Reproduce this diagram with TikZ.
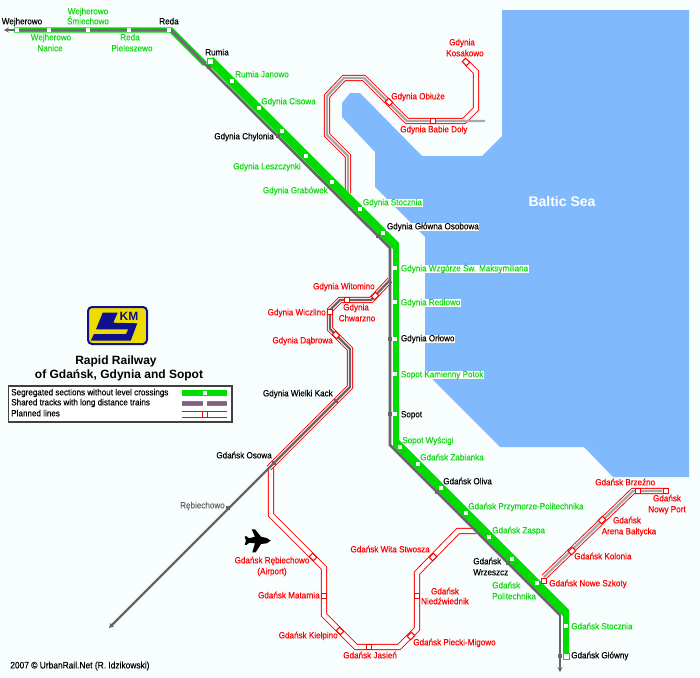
\documentclass[tikz,border=0pt]{standalone}
\usepackage{fontspec}
\usetikzlibrary{arrows.meta}
\setmainfont{Liberation Sans}
\newfontfamily\labf[FakeStretch=0.9,FakeBold=0.15]{Liberation Sans}
\definecolor{bgc}{HTML}{F8FDFE}
\definecolor{seac}{HTML}{80BAFC}
\definecolor{grn}{HTML}{00DC00}
\definecolor{grt}{HTML}{10D810}
\definecolor{gmid}{HTML}{666666}
\definecolor{gpur}{HTML}{806080}
\definecolor{glight}{HTML}{A8A8A8}
\definecolor{navyl}{HTML}{10108C}
\definecolor{yel}{HTML}{EEDC00}
\tikzset{
  x=0.75pt,y=-0.75pt,
  lab/.style={font=\labf\fontsize{6.75}{8}\selectfont,inner sep=0pt,text height=5pt,text depth=1.5pt},
  bl/.style={lab,text=black},
  gr/.style={lab,text=grt},
  rd/.style={lab,text=red},
  ong/.style={fill=white,inner xsep=0.5pt},
  wst/.style={rectangle,fill=white,inner sep=0pt,minimum width=3.4pt,minimum height=3.4pt},
  wstb/.style={rectangle,fill=white,draw=grn,line width=0.6pt,inner sep=0pt,minimum width=4.4pt,minimum height=4.4pt},
  gst/.style={rectangle,fill=gmid,inner sep=0pt,minimum size=3pt},
  pst/.style={rectangle,fill=white,draw=red,line width=0.7pt,inner sep=0pt,minimum width=3.6pt,minimum height=4.4pt},
  plan/.style={draw=red,line width=0.7pt,double=white,double distance=3.3pt,line join=miter},
  ingl/.style={draw=glight,line width=1.7pt},
  ingd/.style={draw=gmid,line width=1.7pt},
  grayl/.style={draw=gmid,line width=2pt},
  graypur/.style={draw=gpur,line width=1.8pt},
  greenband/.style={draw=grn,line width=4pt},
  tipg/.style={-{Stealth[length=3.6pt,width=3.8pt]}},
}
\begin{document}
\begin{tikzpicture}
\useasboundingbox (0,0) rectangle (700,678);
\fill[bgc] (0,0) rectangle (700,678);
% sea
\fill[seac] (502,10) -- (689,10) -- (689,477) -- (613,477) -- (584,447) -- (500,447) -- (435,382) -- (425,370) -- (425,237) -- (375,187) -- (375,152) -- (342,117) -- (342,103) -- (350,93) -- (360,93) -- (422,156) -- (482,156) -- (502,136) -- cycle;
\node[font=\bfseries\fontsize{10.5}{12}\selectfont,text=white,inner sep=0pt] (baltic) at (562,201) {Baltic Sea};
% main line waypoints
\coordinate (wejend) at (4,30);
\coordinate (bandw) at (14,30);
\coordinate (bandr) at (171,30);
\coordinate (bandm) at (205,64);
\coordinate (gt1) at (390,248);
\coordinate (gt2) at (390,445);
\coordinate (gt3) at (560,615);
\coordinate (gtend) at (560,672);
% planned Gdynia north loop
\coordinate (a0) at (348,193);\coordinate (a1) at (348,156);\coordinate (a2) at (327,135);\coordinate (a3) at (327,96);
\coordinate (a4) at (344,78);\coordinate (a5) at (364,78);\coordinate (a6) at (407,121);\coordinate (a7) at (464,121);
\coordinate (a8) at (476,109);\coordinate (a9) at (476,72);\coordinate (a10) at (467,63);\coordinate (a11) at (485,121);
\draw[plan] (a0) -- (a1) -- (a2) -- (a3) -- (a4) -- (a5) -- (a6) -- (a7) -- (a8) -- (a9) -- (a10);
\draw[ingl] (a0) -- (a1) -- (a2) -- (a3) -- (a4) -- (a5) -- (a6) -- (a7) -- (a11);
% airport branch
\coordinate (c0) at (271,466);\coordinate (c1) at (271,515);\coordinate (c2) at (324,568);\coordinate (c3) at (324,615);
\coordinate (c4) at (356,647);\coordinate (c5) at (399,647);\coordinate (c6) at (417,629);\coordinate (c7) at (417,573);
\coordinate (c8) at (458,531);\coordinate (c9) at (476,531);
\draw[plan] (c0) -- (c1) -- (c2) -- (c3) -- (c4) -- (c5) -- (c6) -- (c7) -- (c8) -- (c9);
% Witomino line
\coordinate (b0) at (390,280);\coordinate (b1) at (371,300);\coordinate (b2) at (340,300);\coordinate (b3) at (330,310);
\coordinate (b4) at (330,329);\coordinate (b5) at (350,349);\coordinate (b6) at (350,387);\coordinate (b7) at (269,468);
\coordinate (b8) at (109,628);
\draw[plan] (b0) -- (b1) -- (b2) -- (b3) -- (b4) -- (b5) -- (b6) -- (b7);
\draw[ingd,tipg] (b0) -- (b1) -- (b2) -- (b3) -- (b4) -- (b5) -- (b6) -- (b8);
% Nowy Port line
\coordinate (d0) at (544,577);\coordinate (d1) at (633,491);\coordinate (d2) at (668,491);\coordinate (d3) at (662,491);\coordinate (d4) at (537,583);
\draw[draw=red,line width=0.7pt] (d4) -- (544,581);
\draw[plan] (d0) -- (d1) -- (d2);
\draw[ingl] (d0) -- (d1) -- (d3);
% main line
\draw[greenband] (bandw) -- (bandr) -- (bandm);
\fill[grn] (213,57) -- (399,243) -- (399,439.8) -- (569,609.8) -- (569,659) -- (563,659) -- (563,616.2) -- (393,446.2) -- (393,249.2) -- (207,63) -- cycle;
\draw[grayl,tipg] (bandw) -- (wejend);
\draw[graypur] (bandw) -- (bandr) -- (bandm);
\draw[grayl] (bandm) -- (gt1) -- (gt2) -- (gt3);
\draw[grayl,tipg] (gt3) -- (gtend);
% stations on the band and green line
\foreach \n/\xx/\yy in {s1/17/30,s2/49/30,s3/88/30,s4/129/30,s5/169/30,s7/232/81,s8/259/108,s9/282/131,s10/306/156,s11/332/182,s12/360/209,s13/383/233,s14/395/268,s15/395/302,s16/395/339,s17/395/374,s18/395/414,s19/400/447,s20/418/464,s21/441/488,s22/466/513,s23/489/537,s24/512/559,s25/537/583,s26/566/626}
  \node[wst] (\n) at (\xx,\yy) {};
\node[wstb] (s6) at (210,61) {};
\node[wstb] (s27) at (566,656) {};
% gray stations
\node[gst] (g1) at (209,67) {};
\node[gst] (g2) at (278,136) {};
\node[gst] (g3) at (378,236) {};
\node[gst] (g4) at (390,339) {};
\node[gst] (g5) at (390,414) {};
\node[gst] (g6) at (437,492) {};
\node[gst] (g7) at (508,563) {};
\node[gst] (g8) at (560,656) {};
\node[gst] (g9) at (336,401) {};
\node[gst] (g10) at (274,463) {};
\node[gst] (g11) at (228,508) {};
% planned stations
\node[pst,rotate=45] (p1) at (466,62) {};
\node[pst,rotate=45] (p2) at (389,102) {};
\node[pst] (p3) at (433,121) {};
\node[pst,rotate=-45] (p4) at (375,296) {};
\node[pst] (p5) at (347,300) {};
\node[pst,minimum width=4.4pt,minimum height=4.4pt] (p6) at (330,312) {};
\node[pst,rotate=45] (p7) at (336,335) {};
\node[pst,rotate=45] (p8) at (313,557) {};
\node[pst,rotate=90] (p9) at (324,596) {};
\node[pst,rotate=45] (p10) at (340,631) {};
\node[pst] (p11) at (369,647) {};
\node[pst,rotate=-45] (p12) at (411,636) {};
\node[pst,rotate=90] (p13) at (417,596) {};
\node[pst,rotate=-45] (p14) at (433,557) {};
\node[pst,minimum width=4.4pt,minimum height=4.4pt] (p15) at (544,581) {};
\node[pst,rotate=-45] (p16) at (572,551) {};
\node[pst,rotate=-45] (p17) at (602,520) {};
\node[pst] (p18) at (638,491) {};
\node[pst] (p19) at (666,491) {};
% black labels
\node[bl] (t1) at (22,22) {Wejherowo};
\node[bl] (t2) at (169,22) {Reda};
\node[bl] (t3) at (217,53) {Rumia};
\node[bl,anchor=east] (t4) at (274,137) {Gdynia Chylonia};
\node[bl,ong,anchor=west] (t5) at (386,227) {Gdynia Główna Osobowa};
\node[bl,ong,anchor=west] (t6) at (400,339) {Gdynia Orłowo};
\node[bl,ong,anchor=west] (t7) at (400,415) {Sopot};
\node[bl,anchor=east] (t8) at (333,394) {Gdynia Wielki Kack};
\node[bl,anchor=east] (t9) at (272,456) {Gdańsk Osowa};
\node[bl,anchor=west] (t10) at (443,482) {Gdańsk Oliva};
\node[bl,anchor=west] (t11) at (473,562) {Gdańsk};
\node[bl,anchor=west] (t12) at (473,573) {Wrzeszcz};
\node[bl,anchor=west] (t13) at (571,656) {Gdańsk Główny};
\node[lab,text=gmid,anchor=east] (t14) at (225,506) {Rębiechowo};
% green labels
\node[gr] (u1) at (88,12) {Wejherowo};
\node[gr] (u2) at (88,22) {Śmiechowo};
\node[gr] (u3) at (51,38) {Wejherowo};
\node[gr] (u4) at (50,49) {Nanice};
\node[gr] (u5) at (130,38) {Reda};
\node[gr] (u6) at (132,49) {Pieleszewo};
\node[gr,anchor=west] (u7) at (235,75) {Rumia Janowo};
\node[gr,anchor=west] (u8) at (261,102) {Gdynia Cisowa};
\node[gr,anchor=east] (u9) at (301,167) {Gdynia Leszczynki};
\node[gr,anchor=east] (u10) at (328,191) {Gdynia Grabówek};
\node[gr,ong,anchor=west] (u11) at (362,203) {Gdynia Stocznia};
\node[gr,ong,anchor=west] (u12) at (400,269) {Gdynia Wzgórze Św. Maksymiliana};
\node[gr,ong,anchor=west] (u13) at (400,303) {Gdynia Redłowo};
\node[gr,ong,anchor=west] (u14) at (400,375) {Sopot Kamienny Potok};
\node[gr,anchor=west] (u15) at (402,441) {Sopot Wyścigi};
\node[gr,anchor=west] (u16) at (420,458) {Gdańsk Żabianka};
\node[gr,anchor=west] (u17) at (468,507) {Gdańsk Przymorze-Politechnika};
\node[gr,anchor=west] (u18) at (492,531) {Gdańsk Zaspa};
\node[gr,anchor=west] (u19) at (492,586) {Gdańsk};
\node[gr,anchor=west] (u20) at (492,597) {Politechnika};
\node[gr,anchor=west] (u21) at (571,627) {Gdańsk Stocznia};
% red labels
\node[rd] (v1) at (462,43) {Gdynia};
\node[rd] (v2) at (465,54) {Kosakowo};
\node[rd,anchor=west] (v3) at (391,97) {Gdynia Obłuże};
\node[rd,anchor=west] (v4) at (400,130) {Gdynia Babie Doły};
\node[rd,anchor=east] (v5) at (375,287) {Gdynia Witomino};
\node[rd,anchor=east] (v6) at (326,313) {Gdynia Wiczlino};
\node[rd] (v7) at (356,308) {Gdynia};
\node[rd] (v8) at (357,319) {Chwarzno};
\node[rd,anchor=east] (v9) at (333,341) {Gdynia Dąbrowa};
\node[rd] (v10) at (272,561) {Gdańsk Rębiechowo};
\node[rd] (v11) at (272,572) {(Airport)};
\node[rd,anchor=east] (v12) at (320,596) {Gdańsk Matarnia};
\node[rd,anchor=east] (v13) at (338,636) {Gdańsk Kiełpino};
\node[rd,anchor=west] (v14) at (343,656) {Gdańsk Jasień};
\node[rd,anchor=west] (v15) at (413,643) {Gdańsk Piecki-Migowo};
\node[rd] (v16) at (445,592) {Gdańsk};
\node[rd] (v17) at (445,602) {Niedźwiednik};
\node[rd,anchor=east] (v18) at (430,550) {Gdańsk Wita Stwosza};
\node[rd,anchor=west] (v19) at (549,584) {Gdańsk Nowe Szkoty};
\node[rd,anchor=west] (v20) at (574,557) {Gdańsk Kolonia};
\node[rd] (v21) at (627,521) {Gdańsk};
\node[rd] (v22) at (629,532) {Arena Bałtycka};
\node[rd,anchor=west] (v23) at (595,483) {Gdańsk Brzeźno};
\node[rd] (v24) at (667,499) {Gdańsk};
\node[rd] (v25) at (667,510) {Nowy Port};
% airplane
\fill[black] (270.7,540.7) -- (266.7,538) -- (261,536.7) -- (255,529.3) -- (251.7,529.3) -- (255,536.7) -- (249,538.3) -- (246,536) -- (244.7,536.7) -- (246,540.7) -- (244.7,544.7) -- (246.3,545) -- (249.3,542.7) -- (255,543.3) -- (252.3,552.3) -- (255.7,552.3) -- (261,544) -- (266.7,543.3) -- cycle;
% logo
\draw[navyl,line width=1.5pt,fill=yel,rounded corners=3pt] (88,307) rectangle (147,344);
\fill[navyl] (102.7,312.7) -- (117.7,312.7) -- (113.3,322.7) -- (137.3,323.3) -- (130.7,340.7) -- (90.7,340.7) -- (94,334) -- (126,334) -- (128.3,329.3) -- (96,329.3) -- cycle;
\node[inner sep=0pt,text=navyl,font=\bfseries\fontsize{9}{10}\selectfont] (kmlogo) at (129,316) {KM};
% title
\node[inner sep=0pt,font=\bfseries\fontsize{9}{11}\selectfont] (title1) at (116,361) {Rapid Railway};
\node[inner sep=0pt,font=\bfseries\fontsize{9}{11}\selectfont] (title2) at (119,375) {of Gdańsk, Gdynia and Sopot};
% legend
\draw[black!75,line width=0.8pt,fill=white] (8.5,386) rectangle (232,422);
\node[lab,text=black,anchor=west] (l1) at (11,393) {Segregated sections without level crossings};
\node[lab,text=black,anchor=west] (l2) at (11,403) {Shared tracks with long distance trains};
\node[lab,text=black,anchor=west] (l3) at (11,414) {Planned lines};
\coordinate (la1) at (182,393);\coordinate (la2) at (227,393);
\coordinate (lb1) at (182,403.5);\coordinate (lb2) at (227,403.5);
\coordinate (lc1) at (182,414.5);\coordinate (lc2) at (227,414.5);
\draw[greenband,line width=4.4pt] (la1) -- (la2);
\draw[greenband,line width=4.4pt] (lb1) -- (lb2);
\draw[graypur] (lb1) -- (lb2);
\draw[plan] (lc1) -- (lc2);
\node[wst] (ls1) at (205,393) {};
\node[wst] (ls2) at (205,403.5) {};
\node[pst] (ls3) at (205,414.5) {};
% credit
\node[inner sep=0pt,anchor=west,font=\labf\fontsize{7}{8}\selectfont] (credit) at (10,666) {2007 © UrbanRail.Net (R. Idzikowski)};
\end{tikzpicture}
\end{document}
